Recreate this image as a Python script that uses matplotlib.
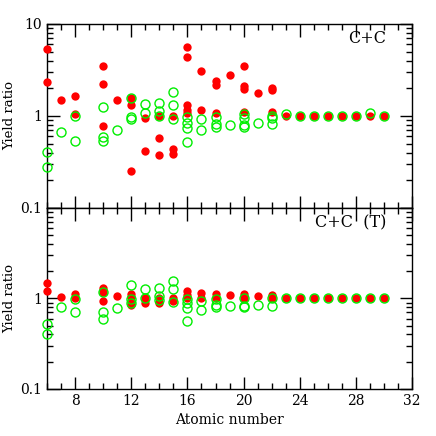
import matplotlib
matplotlib.use('Agg')
import matplotlib.pyplot as plt
from matplotlib.ticker import MultipleLocator, LogLocator, NullFormatter, FixedFormatter, FixedLocator

plt.rcParams['font.family'] = ['DejaVu Serif']

# --- data (atomic number, yield ratio) ---
top_red_z = [6, 6, 7, 8, 8, 10, 10, 10, 11, 12, 12, 12, 13, 13, 14, 14, 14,
             15, 15, 15, 16, 16, 16, 16, 16, 17, 17, 18, 18, 18, 19,
             20, 20, 20, 20, 21, 22, 22, 22, 23, 24, 25, 26, 27, 28, 29, 30]
top_red_y = [5.4, 2.37, 1.49, 1.66, 1.06, 3.45, 2.21, 0.78, 1.49, 1.55, 1.30, 0.254,
             0.946, 0.42, 1.01, 0.57, 0.376, 0.99, 0.44, 0.386,
             5.65, 4.36, 1.32, 1.17, 1.09, 3.12, 1.16, 2.38, 2.19, 1.08, 2.77,
             3.5, 2.1, 1.98, 1.1, 1.78, 2.01, 1.9, 1.1,
             1.0, 1.0, 1.0, 1.0, 1.0, 1.0, 1.01, 1.0]

top_green_z = [6, 6, 7, 8, 8, 10, 10, 10, 11, 12, 12, 12, 13, 13, 14, 14, 14,
               15, 15, 15, 16, 16, 16, 16, 17, 17, 18, 18, 18, 19,
               20, 20, 20, 20, 21, 22, 22, 22, 23, 24, 25, 26, 27, 28, 29, 30]
top_green_y = [0.41, 0.28, 0.67, 0.99, 0.54, 1.25, 0.59, 0.53, 0.70, 1.55, 0.97, 0.92,
               1.35, 1.07, 1.39, 1.12, 0.99, 1.84, 1.32, 0.92,
               0.97, 0.84, 0.74, 0.52, 0.92, 0.70, 0.97, 0.81, 0.75, 0.79,
               1.05, 0.96, 0.79, 0.75, 0.83, 1.0, 0.96, 0.81,
               1.04, 1.0, 1.0, 1.0, 1.0, 1.0, 1.09, 1.0]

bot_red_z = [6, 6, 7, 8, 8, 10, 10, 10, 11, 12, 12, 12, 12, 13, 13, 14, 14,
             15, 15, 16, 16, 16, 17, 17, 18, 18, 19, 20, 20, 21, 22, 22,
             23, 24, 25, 26, 27, 28, 29, 30]
bot_red_y = [1.47, 1.22, 1.05, 1.11, 1.0, 1.32, 1.18, 0.93, 1.06, 1.12, 1.04, 0.89, 0.84,
             1.0, 0.89, 1.02, 0.88, 1.02, 0.93, 1.22, 1.08, 1.0, 1.15, 1.02,
             1.12, 1.0, 1.09, 1.13, 1.0, 1.06, 1.09, 1.0,
             1.0, 1.0, 1.0, 1.0, 1.0, 1.0, 1.0, 1.0]

bot_green_z = [6, 6, 7, 8, 8, 10, 10, 10, 11, 12, 12, 12, 13, 13, 14, 14, 14,
               15, 15, 15, 16, 16, 16, 16, 17, 17, 18, 18, 18, 19,
               20, 20, 20, 21, 22, 22, 23, 24, 25, 26, 27, 28, 29, 30]
bot_green_y = [0.52, 0.40, 0.80, 0.98, 0.70, 1.18, 0.70, 0.59, 0.79, 1.41, 0.98, 0.89,
               1.26, 1.0, 1.30, 1.06, 0.97, 1.56, 1.26, 0.91,
               0.98, 0.88, 0.79, 0.56, 0.93, 0.74, 0.98, 0.85, 0.80, 0.82,
               1.0, 0.82, 0.80, 0.84, 1.0, 0.82,
               1.0, 1.0, 1.0, 1.0, 1.0, 1.0, 1.0, 1.0]

panel_labels = ['C+C', 'C+C  (T)']

RED = '#ff0000'
GREEN = '#00ee00'

fig = plt.figure(figsize=(4.36, 4.36), dpi=100)
ax_top = fig.add_axes([0.108, 0.523, 0.837, 0.422])
ax_bot = fig.add_axes([0.108, 0.108, 0.837, 0.415])

panels = [
    (ax_top, top_red_z, top_red_y, top_green_z, top_green_y, panel_labels[0]),
    (ax_bot, bot_red_z, bot_red_y, bot_green_z, bot_green_y, panel_labels[1]),
]

for ax, rz, ry, gz, gy, label in panels:
    ax.plot(rz, ry, 'o', color=RED, markersize=6, markeredgewidth=0,
            linestyle='none', clip_on=False, zorder=3)
    ax.plot(gz, gy, 'o', markerfacecolor='none', markeredgecolor=GREEN,
            markersize=6.5, markeredgewidth=1.0, linestyle='none',
            clip_on=False, zorder=4)
    ax.set_yscale('log')
    ax.set_xlim(6, 32)
    ax.set_ylim(0.1, 10)
    ax.xaxis.set_major_locator(MultipleLocator(4))
    ax.xaxis.set_minor_locator(MultipleLocator(1))
    ax.yaxis.set_minor_locator(LogLocator(base=10, subs=range(2, 10)))
    ax.yaxis.set_minor_formatter(NullFormatter())
    ax.tick_params(which='both', direction='in', top=True, right=True,
                   labelsize=10, width=1)
    ax.tick_params(which='major', length=9)
    ax.tick_params(which='minor', length=4.5)
    for sp in ax.spines.values():
        sp.set_linewidth(1)
    ax.set_ylabel('Yield ratio', fontsize=9.5)
    ax.yaxis.set_label_coords(-0.086, 0.5)
    ax.text(0.93, 0.965, label, transform=ax.transAxes, ha='right', va='top',
            fontsize=11.5)

ax_top.yaxis.set_major_locator(FixedLocator([0.1, 1, 10]))
ax_top.yaxis.set_major_formatter(FixedFormatter(['0.1', '1', '10']))
ax_top.tick_params(labelbottom=False)

ax_bot.yaxis.set_major_locator(FixedLocator([0.1, 1, 10]))
ax_bot.yaxis.set_major_formatter(FixedFormatter(['0.1', '1', '']))
ax_bot.set_xlabel('Atomic number', fontsize=10, labelpad=4)

fig.savefig('out.png', dpi=100)
